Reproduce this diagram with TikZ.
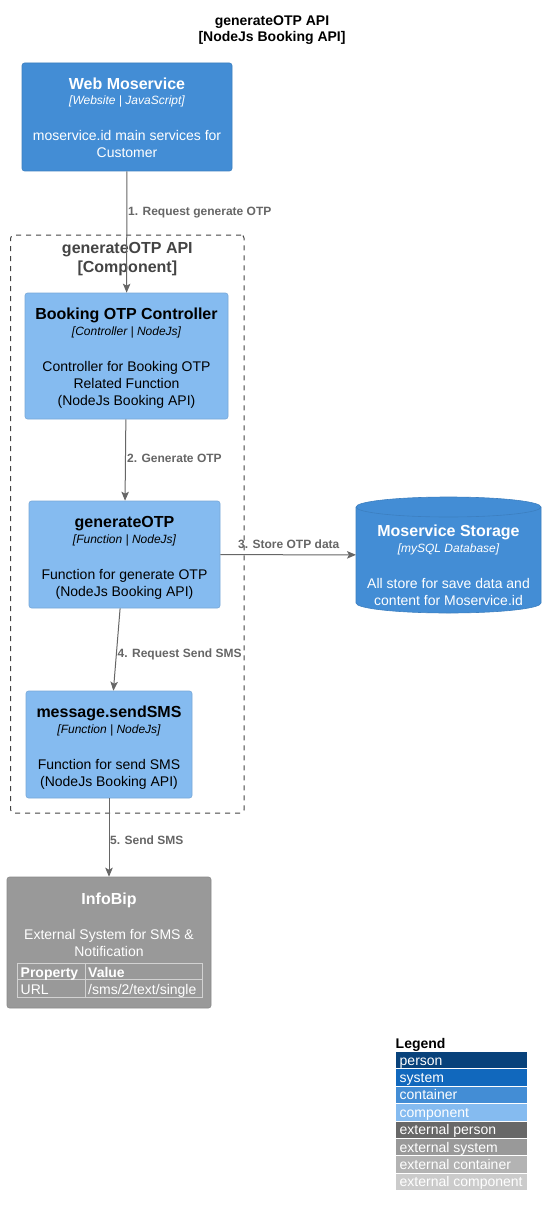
\documentclass[tikz,border=0pt]{standalone}
\usepackage{fontspec}
\setmainfont{Liberation Sans}
\usetikzlibrary{arrows.meta}
\definecolor{cont}{HTML}{438DD5}
\definecolor{contb}{HTML}{3C7FC0}
\definecolor{comp}{HTML}{85BBF0}
\definecolor{compb}{HTML}{78A8D8}
\definecolor{extsys}{HTML}{999999}
\definecolor{extsysb}{HTML}{8A8A8A}
\definecolor{personc}{HTML}{08427B}
\definecolor{systemc}{HTML}{1168BD}
\definecolor{extperson}{HTML}{686868}
\definecolor{extcont}{HTML}{B3B3B3}
\definecolor{extcomp}{HTML}{CBCBCB}
\definecolor{relc}{HTML}{666666}
\definecolor{bndc}{HTML}{444444}
\definecolor{tblc}{HTML}{D2D2D2}
\tikzset{
  box/.style={rectangle, rounded corners=2.5pt, inner sep=0pt, line width=0.6pt},
  contbox/.style={box, fill=cont, draw=contb},
  compbox/.style={box, fill=comp, draw=compb},
  extbox/.style={box, fill=extsys, draw=extsysb},
  ttl/.style={font=\fontsize{16}{19}\selectfont\bfseries, anchor=base, inner sep=0pt},
  tech/.style={font=\fontsize{12}{14}\selectfont\itshape, anchor=base, inner sep=0pt},
  desc/.style={font=\fontsize{14}{17}\selectfont, anchor=base, inner sep=0pt},
  relarrow/.style={draw=relc, line width=1pt, -{Stealth[length=9pt,width=7.5pt,inset=2pt]}},
  lbl/.style={font=\fontsize{12}{14}\selectfont\bfseries, text=relc, anchor=base west, inner sep=0pt},
  legtxt/.style={font=\fontsize{14}{17}\selectfont, text=white, anchor=base west, inner sep=0pt},
}
\begin{document}
\begin{tikzpicture}[x=1pt,y=-1pt]
\useasboundingbox (0,0) rectangle (557,1217);
\fill[white] (0,0) rectangle (557,1217);

% title
\node[font=\fontsize{14}{17}\selectfont\bfseries, anchor=base, inner sep=0pt] (t1) at (272,26) {generateOTP API};
\node[font=\fontsize{14}{17}\selectfont\bfseries, anchor=base, inner sep=0pt] (t2) at (272,42) {[NodeJs Booking API]};

% boundary
\node[draw=bndc, line width=1pt, dash pattern=on 5pt off 5pt, rounded corners=3pt, minimum width=233.3pt, minimum height=578pt, inner sep=0pt] (bound) at (127.35,524) {};
\node[ttl, text=bndc] (bt1) at (127.35,253.6) {generateOTP API};
\node[ttl, text=bndc] (bt2) at (127.35,272.6) {[Component]};

% Web Moservice
\node[contbox, minimum width=210pt, minimum height=108pt] (wm) at (127,117) {};
\node[ttl, text=white] (wmT) at (127,89.6) {Web Moservice};
\node[tech, text=white] (wmS) at (127,105) {[Website | JavaScript]};
\node[desc, text=white] (wmD1) at (127,141) {moservice.id main services for};
\node[desc, text=white] (wmD2) at (127,158) {Customer};

% Booking OTP Controller
\node[compbox, minimum width=203pt, minimum height=126pt] (ctrl) at (126.5,356) {};
\node[ttl] (ctT) at (126.5,319.6) {Booking OTP Controller};
\node[tech] (ctS) at (126.5,335) {[Controller | NodeJs]};
\node[desc] (ctD1) at (126.5,371) {Controller for Booking OTP};
\node[desc] (ctD2) at (126.5,388) {Related Function};
\node[desc] (ctD3) at (126.5,405) {(NodeJs Booking API)};

% generateOTP
\node[compbox, minimum width=191pt, minimum height=107pt] (gen) at (124.5,554.5) {};
\node[ttl] (gnT) at (124.5,527.6) {generateOTP};
\node[tech] (gnS) at (124.5,543) {[Function | NodeJs]};
\node[desc] (gnD1) at (124.5,579) {Function for generate OTP};
\node[desc] (gnD2) at (124.5,596) {(NodeJs Booking API)};

% message.sendSMS
\node[compbox, minimum width=166pt, minimum height=107pt] (sms) at (109,744.5) {};
\node[ttl] (smT) at (109,717.6) {message.sendSMS};
\node[tech] (smS) at (109,733) {[Function | NodeJs]};
\node[desc] (smD1) at (109,769) {Function for send SMS};
\node[desc] (smD2) at (109,786) {(NodeJs Booking API)};

% Moservice Storage (database)
\fill[cont] (356,507) -- (356,603) arc[start angle=180, end angle=360, x radius=92.5pt, y radius=10pt] -- (541,507) arc[start angle=0, end angle=180, x radius=92.5pt, y radius=10pt] -- cycle;
\draw[contb, line width=0.6pt] (356,507) -- (356,603) arc[start angle=180, end angle=360, x radius=92.5pt, y radius=10pt] -- (541,507) arc[start angle=0, end angle=180, x radius=92.5pt, y radius=10pt];
\draw[contb, line width=0.6pt] (356,507) arc[start angle=180, end angle=360, x radius=92.5pt, y radius=10pt];
\node[rectangle, minimum width=185pt, minimum height=116pt, inner sep=0pt, outer sep=0pt] (db) at (448.5,555) {};
\node[ttl, text=white] (dbT) at (448.5,536.6) {Moservice Storage};
\node[tech, text=white] (dbS) at (448.5,552) {[mySQL Database]};
\node[desc, text=white] (dbD1) at (448.5,588) {All store for save data and};
\node[desc, text=white] (dbD2) at (448.5,605) {content for Moservice.id};

% InfoBip
\node[extbox, minimum width=204pt, minimum height=131pt] (info) at (109,942.5) {};
\node[ttl, text=white] (ibT) at (109,904.6) {InfoBip};
\node[desc, text=white] (ibD1) at (109,939) {External System for SMS \&};
\node[desc, text=white] (ibD2) at (109,956) {Notification};
\draw[tblc, line width=0.8pt] (17,963) rectangle (202,997);
\draw[tblc, line width=0.8pt] (17,979.5) -- (202,979.5);
\draw[tblc, line width=0.8pt] (85,963) -- (85,997);
\node[legtxt, font=\fontsize{14}{17}\selectfont\bfseries] (tp1) at (20.5,977) {Property};
\node[legtxt, font=\fontsize{14}{17}\selectfont\bfseries] (tp2) at (88,977) {Value};
\node[legtxt] (tv1) at (20.5,994) {URL};
\node[legtxt] (tv2) at (88,994) {/sms/2/text/single};

% relations
\draw[relarrow] (wm) -- (ctrl);
\draw[relarrow] (ctrl) -- (gen);
\draw[relarrow] (gen) -- (db);
\draw[relarrow] (gen) -- (sms);
\draw[relarrow] (sms) -- (info);
\node[lbl] (l1) at (128,215) {1. Request generate OTP};
\node[lbl] (l2) at (127,462) {2. Generate OTP};
\node[lbl] (l3) at (238,548) {3. Store OTP data};
\node[lbl] (l4) at (117.5,657) {4. Request Send SMS};
\node[lbl] (l5) at (110,844) {5. Send SMS};

% legend
\node[font=\fontsize{14}{17}\selectfont\bfseries, anchor=base west, inner sep=0pt] (legT) at (395.5,1048) {Legend};
\foreach \i/\c/\t in {0/personc/person, 1/systemc/system, 2/cont/container, 3/comp/component, 4/extperson/external person, 5/extsys/external system, 6/extcont/external container, 7/extcomp/external component}{
  \fill[\c] (396,1052+17.4*\i) rectangle (527,1068.4+17.4*\i);
  \node[legtxt, name=leg\i] at (399.5,1065+17.4*\i) {\t};
}
\end{tikzpicture}
\end{document}
